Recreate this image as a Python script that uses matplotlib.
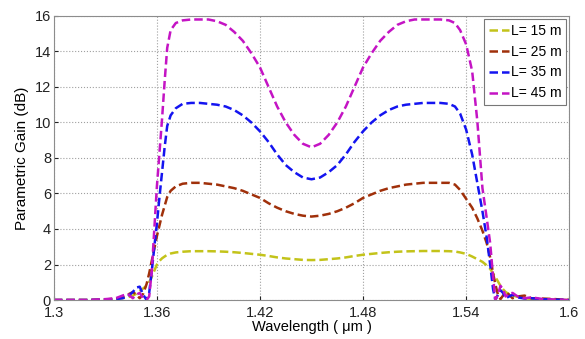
import matplotlib
matplotlib.use("Agg")
import matplotlib.pyplot as plt

# wavelength grid (um)
wl = [1.300, 1.320, 1.330, 1.336, 1.340, 1.343, 1.346, 1.348, 1.350, 1.352,
      1.354, 1.3555, 1.357, 1.3585, 1.360, 1.3615, 1.363, 1.3645, 1.366, 1.368,
      1.371, 1.375, 1.380,
      1.385, 1.390, 1.395, 1.400, 1.405, 1.410, 1.415, 1.420, 1.425, 1.430,
      1.435, 1.440, 1.445, 1.450, 1.455, 1.460, 1.465, 1.470, 1.475, 1.480,
      1.485, 1.490, 1.495, 1.500, 1.505, 1.510, 1.515, 1.520, 1.525, 1.530,
      1.5335, 1.5365, 1.540, 1.5435, 1.5465, 1.5495, 1.552, 1.554, 1.5557, 1.557,
      1.5585, 1.560, 1.5615, 1.563, 1.565, 1.567, 1.570, 1.574, 1.578, 1.585,
      1.592, 1.600]

gain_15 = [0.00, 0.00, 0.02, 0.05, 0.10, 0.15, 0.25, 0.35, 0.50, 0.65,
           0.80, 1.00, 1.30, 1.65, 2.00, 2.20, 2.35, 2.45, 2.55, 2.62,
           2.68, 2.72, 2.75,
           2.75, 2.75, 2.74, 2.72, 2.69, 2.65, 2.60, 2.55, 2.48, 2.40,
           2.34, 2.30, 2.26, 2.25, 2.26, 2.30, 2.34, 2.40, 2.48, 2.55,
           2.60, 2.65, 2.69, 2.72, 2.74, 2.75, 2.76, 2.76, 2.76, 2.75,
           2.73, 2.68, 2.60, 2.45, 2.30, 2.15, 1.95, 1.75, 1.50, 1.30,
           1.05, 0.80, 0.60, 0.45, 0.33, 0.25, 0.18, 0.10, 0.06, 0.03,
           0.02, 0.00]

gain_25 = [0.00, 0.00, 0.03, 0.08, 0.15, 0.30, 0.45, 0.30, 0.10, 0.35,
           0.90, 1.50, 2.20, 2.90, 3.60, 4.20, 4.80, 5.30, 5.80, 6.15,
           6.40, 6.55, 6.60,
           6.60, 6.55, 6.50, 6.40, 6.30, 6.15, 5.95, 5.75, 5.45, 5.20,
           5.00, 4.85, 4.75, 4.70, 4.75, 4.85, 5.00, 5.20, 5.45, 5.75,
           5.95, 6.15, 6.30, 6.40, 6.50, 6.55, 6.60, 6.60, 6.60, 6.60,
           6.50, 6.20, 5.70, 5.20, 4.60, 3.90, 3.20, 2.40, 1.50, 0.90,
           0.30, 0.05, 0.25, 0.45, 0.30, 0.10, 0.20, 0.25, 0.10, 0.08,
           0.05, 0.00]

gain_35 = [0.00, 0.00, 0.02, 0.05, 0.10, 0.20, 0.45, 0.70, 0.75, 0.30,
           0.00, 0.40, 1.60, 3.00, 4.30, 5.80, 7.20, 8.60, 9.80, 10.40,
           10.80, 11.05, 11.10,
           11.10, 11.05, 11.00, 10.90, 10.70, 10.40, 10.00, 9.50, 8.90, 8.20,
           7.60, 7.20, 6.90, 6.80, 6.90, 7.20, 7.60, 8.20, 8.90, 9.50,
           10.00, 10.40, 10.70, 10.90, 11.00, 11.05, 11.10, 11.10, 11.10, 11.05,
           10.90, 10.50, 9.60, 8.20, 6.60, 5.00, 3.50, 2.00, 0.60, 0.00,
           0.30, 0.55, 0.40, 0.10, 0.20, 0.30, 0.15, 0.08, 0.10, 0.04,
           0.02, 0.00]

gain_45 = [0.00, 0.00, 0.05, 0.10, 0.25, 0.35, 0.10, 0.30, 0.40, 0.10,
           0.00, 0.20, 1.60, 4.00, 6.40, 8.30, 10.20, 12.30, 14.20, 15.20,
           15.60, 15.75, 15.80,
           15.80, 15.80, 15.70, 15.50, 15.10, 14.60, 13.90, 13.10, 12.00, 10.90,
           10.00, 9.30, 8.80, 8.60, 8.80, 9.30, 10.00, 10.90, 12.00, 13.10,
           13.90, 14.60, 15.10, 15.50, 15.70, 15.80, 15.80, 15.80, 15.80, 15.75,
           15.60, 15.20, 14.40, 12.90, 10.10, 6.30, 4.60, 3.20, 1.30, 0.00,
           0.30, 0.80, 0.60, 0.20, 0.35, 0.40, 0.20, 0.10, 0.15, 0.05,
           0.03, 0.00]

series = [gain_15, gain_25, gain_35, gain_45]
labels = ["L= 15 m", "L= 25 m", "L= 35 m", "L= 45 m"]
colors = ["#c3c31a", "#a0300a", "#1414f0", "#c414c4"]

xticks = [1.3, 1.36, 1.42, 1.48, 1.54, 1.6]
xticklabels = ["1.3", "1.36", "1.42", "1.48", "1.54", "1.6"]
yticks = [0, 2, 4, 6, 8, 10, 12, 14, 16]

plt.rcParams["font.family"] = ["Liberation Sans", "DejaVu Sans"]

fig, ax = plt.subplots(figsize=(5.85, 3.39), dpi=100)
fig.subplots_adjust(left=0.092, right=0.973, bottom=0.115, top=0.953)

for g, lab, c in zip(series, labels, colors):
    ax.plot(wl, g, linestyle=(0, (3.4, 1.6)), color=c, lw=1.8, label=lab)

ax.set_xlim(1.3, 1.6)
ax.set_ylim(0, 16)
ax.set_xticks(xticks)
ax.set_xticklabels(xticklabels)
ax.set_yticks(yticks)
ax.tick_params(direction="in", length=3, labelsize=10.5, colors="#222222", pad=2)
ax.tick_params(axis="x", pad=4)
ax.grid(True, linestyle=":", color="#a0a0a0", lw=0.8)
for sp in ax.spines.values():
    sp.set_color("#8c8c8c")

ax.set_xlabel("Wavelength ( \u03bcm )", fontsize=10.5, labelpad=0)
ax.set_ylabel("Parametric Gain (dB)", fontsize=11, labelpad=4)

leg = ax.legend(loc="upper right", fontsize=10, handlelength=1.5, handletextpad=0.1,
                borderpad=0.35, labelspacing=0.5, borderaxespad=0.2, fancybox=False,
                framealpha=1)
leg.get_frame().set_edgecolor("#777777")
leg.get_frame().set_linewidth(0.8)

fig.savefig("out.png", dpi=100)
